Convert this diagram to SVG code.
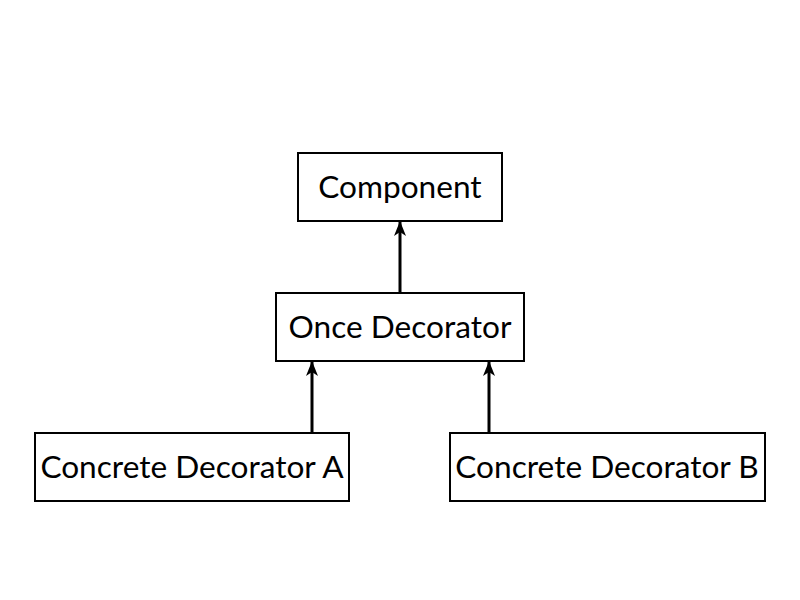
<svg xmlns="http://www.w3.org/2000/svg" width="800" height="600" viewBox="0 0 800 600">
<style>
.box{fill:#fff;stroke:#000;stroke-width:2}
.lbl{font-family:Lato,"Noto Sans",sans-serif;font-size:31.6px;fill:#000;text-anchor:middle;dominant-baseline:central}
.edge{stroke:#000;stroke-width:3;fill:none;marker-end:url(#arr)}
</style>
<defs>
<marker id="arr" markerWidth="16" markerHeight="16" viewBox="0 0 16 16" refX="14" refY="8" orient="auto" markerUnits="userSpaceOnUse">
<path d="M0,2 L15,8 L0,14 L4,8 Z" fill="#000"/>
</marker>
</defs>
<rect width="800" height="600" fill="#fff"/>
<g id="connectors">
<line class="edge" x1="400" y1="293" x2="400" y2="222"/>
<line class="edge" x1="312" y1="433" x2="312" y2="362"/>
<line class="edge" x1="489" y1="433" x2="489" y2="362"/>
</g>
<g id="component">
<rect class="box" x="298" y="153" width="204" height="68"/>
<text class="lbl" x="400" y="186">Component</text>
</g>
<g id="once-decorator">
<rect class="box" x="276" y="293" width="248" height="68"/>
<text class="lbl" x="400" y="326">Once Decorator</text>
</g>
<g id="concrete-a">
<rect class="box" x="35" y="433" width="314" height="68"/>
<text class="lbl" x="192" y="466">Concrete Decorator A</text>
</g>
<g id="concrete-b">
<rect class="box" x="450" y="433" width="315" height="68"/>
<text class="lbl" x="607" y="466">Concrete Decorator B</text>
</g>
</svg>
